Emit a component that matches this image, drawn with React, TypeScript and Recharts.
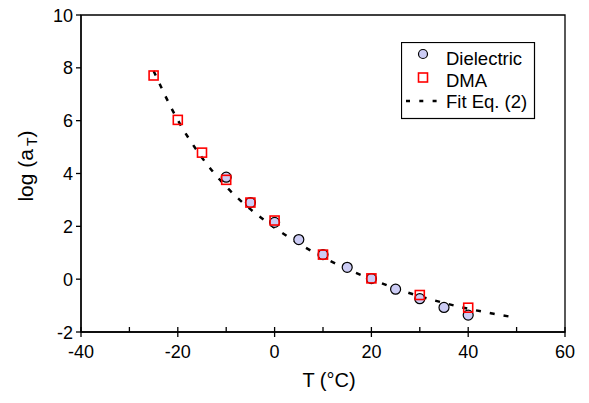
import { ComposedChart, Line, Scatter, XAxis, YAxis, ReferenceArea, Legend } from 'recharts';

// temperatures (°C) and log(aT)
const dielectricT = [-10, -5, 0, 5, 10, 15, 20, 25, 30, 35, 40];
const dielectricLogA = [3.86, 2.9, 2.15, 1.5, 0.93, 0.45, 0.02, -0.38, -0.74, -1.07, -1.36];
const dmaT = [-25, -20, -15, -10, -5, 0, 10, 20, 30, 40];
const dmaLogA = [7.71, 6.03, 4.79, 3.76, 2.9, 2.22, 0.93, 0.03, -0.6, -1.08];
const fitT = [-25, -20, -15, -10, -5, 0, 5, 10, 15, 20, 25, 30, 35, 40, 45, 49];
const fitLogA = [7.88, 6.02, 4.6, 3.5, 2.65, 1.95, 1.35, 0.83, 0.38, 0.0, -0.35, -0.65, -0.9, -1.12, -1.3, -1.43];

const xTicks = [-40, -30, -20, -10, 0, 10, 20, 30, 40, 50, 60];
const yTicks = [-2, 0, 2, 4, 6, 8, 10];

const dielectric = dielectricT.map((t, i) => ({ t, v: dielectricLogA[i] }));
const dma = dmaT.map((t, i) => ({ t, v: dmaLogA[i] }));
const fit = fitT.map((t, i) => ({ t, v: fitLogA[i] }));

const font = '"Liberation Sans", Arial, sans-serif';

function XTick({ x, y, payload }: any) {
  const major = payload.value % 20 === 0;
  return (
    <g>
      <line x1={x} x2={x} y1={y - 5} y2={major ? y + 5 : y} stroke="#000" strokeWidth={1.3} />
      {major && (
        <text x={x} y={y + 26} textAnchor="middle" fontSize={18} fontFamily={font} fill="#000">
          {payload.value}
        </text>
      )}
    </g>
  );
}

function YTick({ x, y, payload }: any) {
  return (
    <g>
      <line x1={x - 5} x2={x} y1={y} y2={y} stroke="#000" strokeWidth={1.3} />
      <text x={x - 8} y={y + 6.5} textAnchor="end" fontSize={18} fontFamily={font} fill="#000">
        {payload.value}
      </text>
    </g>
  );
}

function Dot({ cx, cy }: any) {
  return <circle cx={cx} cy={cy} r={5} fill="#ccccf5" stroke="#000" strokeWidth={1.2} />;
}

function Square({ cx, cy }: any) {
  return <rect x={cx - 4.5} y={cy - 4.5} width={9} height={9} fill="none" stroke="#ff0000" strokeWidth={1.6} />;
}

function LegendBox() {
  return (
    <svg width={135} height={78} style={{ display: 'block' }}>
      <rect x={0.5} y={0.5} width={133} height={76} fill="#fff" stroke="#000" strokeWidth={1.2} />
      <circle cx={22} cy={12} r={4.5} fill="#ccccf5" stroke="#000" strokeWidth={1.2} />
      <rect x={17.5} y={31} width={9} height={9} fill="none" stroke="#ff0000" strokeWidth={1.6} />
      <line x1={5} x2={37} y1={59} y2={59} stroke="#000" strokeWidth={2.5} strokeDasharray="4 9.3" />
      <g fontSize={18.5} fontFamily={font} fill="#000">
        <text x={45} y={23}>Dielectric</text>
        <text x={45} y={45}>DMA</text>
        <text x={45} y={66}>Fit Eq. (2)</text>
      </g>
    </svg>
  );
}

export default function App() {
  return (
    <div style={{ position: 'absolute', left: 0, top: 0, background: '#fff' }}>
      <ComposedChart width={589} height={403} margin={{ top: 15, right: 24, bottom: 0, left: 0 }}>
        <XAxis
          dataKey="t"
          type="number"
          domain={[-40, 60]}
          ticks={xTicks}
          interval={0}
          height={71}
          tickSize={0}
          tickMargin={0}
          tickLine={false}
          axisLine={{ stroke: '#000', strokeWidth: 1.3 }}
          tick={<XTick />}
          allowDataOverflow
          label={(p: any) => (
            <text
              x={p.viewBox.x + p.viewBox.width / 2 + 6}
              y={p.viewBox.y + 55}
              textAnchor="middle"
              fontSize={20}
              fontFamily={font}
              fill="#000"
            >
              T (°C)
            </text>
          )}
        />
        <YAxis
          dataKey="v"
          type="number"
          domain={[-2, 10]}
          ticks={yTicks}
          interval={0}
          width={81}
          tickSize={0}
          tickMargin={0}
          tickLine={false}
          axisLine={{ stroke: '#000', strokeWidth: 1.3 }}
          tick={<YTick />}
          allowDataOverflow
          label={() => (
            <text transform="translate(33,166) rotate(-90)" textAnchor="middle" fontSize={21} fontFamily={font} fill="#000">
              log (a<tspan dx={3} dy={4} fontSize={14}>T</tspan>
              <tspan dy={-4}>)</tspan>
            </text>
          )}
        />
        <ReferenceArea x1={-40} x2={60} y1={-2} y2={10} fill="none" stroke="#000" strokeWidth={1.3} />
        <Scatter name="Dielectric" data={dielectric} dataKey="v" shape={<Dot />} isAnimationActive={false} />
        <Scatter name="DMA" data={dma} dataKey="v" shape={<Square />} isAnimationActive={false} />
        <Line
          name="Fit Eq. (2)"
          data={fit}
          dataKey="v"
          type="monotone"
          stroke="#000"
          strokeWidth={2.5}
          strokeDasharray="5 9"
          dot={false}
          activeDot={false}
          isAnimationActive={false}
        />
        <Legend
          layout="horizontal"
          verticalAlign="middle"
          align="center"
          wrapperStyle={{ left: 401, top: 42, width: 135, height: 78 }}
          content={() => <LegendBox />}
        />
      </ComposedChart>
    </div>
  );
}
